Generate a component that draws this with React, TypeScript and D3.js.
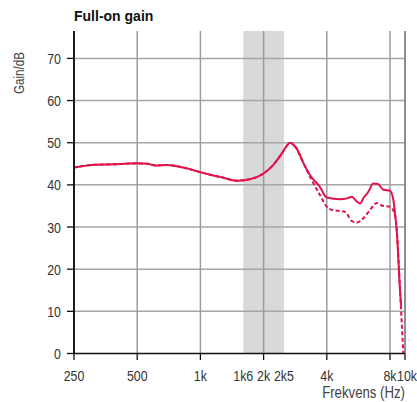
import React from "react";
import * as d3 from "d3";

const title = "Full-on gain";
const yLabel = "Gain/dB";
const xLabel = "Frekvens (Hz)";

const xMin = 250;
const xMax = 9430;
const yMax = 76.5;

const yTicks = [0, 10, 20, 30, 40, 50, 60, 70];
const xGrid = [500, 1000, 2000, 4000, 8000];
const xTickMarks = [250, 500, 1000, 2000, 4000, 8000, 9430];
const xTickValues = [250, 500, 1000, 1600, 2000, 2500, 4000, 8000, 9430];
const xTickLabels = ["250", "500", "1k", "1k6", "2k", "2k5", "4k", "8k", "10k"];

const bandStart = 1600;
const bandEnd = 2500;

const solidFreq = [250, 315, 400, 500, 560, 610, 690, 830, 1000, 1090, 1240, 1490, 1720, 2000, 2220, 2440, 2557, 2670, 2760, 2876, 2980, 3080, 3330, 3710, 4000, 4620, 5000, 5260, 5570, 5760, 6000, 6300, 6660, 7010, 7410, 8000, 8300, 8450, 8610, 8930, 9030];
const solidGain = [44.1, 44.8, 44.9, 45.1, 45.0, 44.6, 44.7, 44.1, 43.0, 42.5, 41.9, 41.0, 41.35, 42.7, 44.7, 47.4, 49.0, 50.0, 49.6, 48.6, 47.0, 45.4, 42.3, 39.5, 37.0, 36.6, 36.8, 37.2, 36.0, 35.6, 37.0, 38.3, 40.3, 40.2, 38.9, 38.6, 36.4, 33.3, 29.3, 15.0, 11.5];

const dashFreq = [250, 315, 400, 500, 560, 610, 690, 830, 1000, 1090, 1240, 1490, 1720, 2000, 2220, 2440, 2557, 2670, 2760, 2876, 2980, 3080, 3330, 3710, 4000, 4280, 4620, 4890, 5270, 5570, 5950, 6420, 6920, 7410, 8000, 8150, 8450, 8610, 8930, 9255];
const dashGain = [44.1, 44.8, 44.9, 45.1, 45.0, 44.6, 44.7, 44.1, 43.0, 42.5, 41.9, 41.0, 41.35, 42.7, 44.7, 47.4, 49.0, 50.0, 49.6, 48.6, 47.0, 45.4, 41.9, 37.6, 34.8, 34.0, 33.8, 33.6, 31.4, 31.1, 32.0, 34.0, 35.7, 35.0, 34.8, 34.5, 32.8, 29.3, 15.0, 0];

const W = 417;
const H = 402;
const left = 74;
const right = 405;
const top = 31;
const bottom = 353.5;

const FONT = "'Liberation Sans', Arial, sans-serif";
const LINE = "#e2124a";
const SX = 0.8;

function NText(props: { x: number; y: number; anchor?: string; size: number; fill: string; rotate?: number; children: React.ReactNode }) {
  const { x, y, anchor = "start", size, fill, rotate = 0, children } = props;
  return (
    <text
      transform={`translate(${x},${y}) rotate(${rotate}) scale(${SX},1)`}
      textAnchor={anchor}
      fontFamily={FONT}
      fontSize={size}
      fill={fill}
    >
      {children}
    </text>
  );
}

export default function App() {
  const x = d3.scaleLog().domain([xMin, xMax]).range([left, right]);
  const y = d3.scaleLinear().domain([0, yMax]).range([bottom, top]);

  const line = d3
    .line<[number, number]>()
    .x((d) => x(d[0]))
    .y((d) => y(d[1]))
    .curve(d3.curveMonotoneX);

  const solidPts = solidFreq.map((f, i) => [f, solidGain[i]] as [number, number]);
  const dashPts = dashFreq.map((f, i) => [f, dashGain[i]] as [number, number]);

  return (
    <svg width={W} height={H} style={{ position: "absolute", left: 0, top: 0, background: "#fff" }}>
      <rect x={x(bandStart)} y={top} width={x(bandEnd) - x(bandStart)} height={bottom - top} fill="#d8d9db" />
      {yTicks.filter((t) => t > 0).map((t) => (
        <line key={"h" + t} x1={left} x2={right} y1={y(t)} y2={y(t)} stroke="#a6a6a6" strokeWidth={1.5} />
      ))}
      {xGrid.map((t) => (
        <line key={"v" + t} x1={x(t)} x2={x(t)} y1={top} y2={bottom} stroke="#9c9c9c" strokeWidth={1.5} />
      ))}
      <line x1={right} x2={right} y1={top} y2={bottom} stroke="#6a6a6a" strokeWidth={1.5} />
      <path d={line(dashPts) || ""} fill="none" stroke={LINE} strokeWidth={2} strokeDasharray="4,2.5" />
      <path d={line(solidPts) || ""} fill="none" stroke={LINE} strokeWidth={2} />
      <line x1={left} x2={left} y1={top} y2={bottom + 0.5} stroke="#1a1a1a" strokeWidth={2} />
      <line x1={left - 1} x2={right} y1={bottom} y2={bottom} stroke="#111" strokeWidth={1.5} />
      {yTicks.map((t) => (
        <g key={"yt" + t}>
          <line x1={left - 7} x2={left} y1={y(t)} y2={y(t)} stroke="#111" strokeWidth={1.3} />
          <NText x={left - 13} y={y(t) + 5.5} anchor="end" size={15.5} fill="#333">
            {t}
          </NText>
        </g>
      ))}
      {xTickMarks.map((t) => (
        <line key={"xt" + t} x1={x(t)} x2={x(t)} y1={bottom} y2={bottom + 6.5} stroke="#111" strokeWidth={1.3} />
      ))}
      {xTickValues.map((t, i) => {
        const last = i === xTickValues.length - 1;
        return (
          <NText key={"xl" + t} x={last ? 417 : x(t)} y={381} anchor={last ? "end" : "middle"} size={15.5} fill="#333">
            {xTickLabels[i]}
          </NText>
        );
      })}
      <NText x={right} y={398} anchor="end" size={16.5} fill="#444">
        {xLabel}
      </NText>
      <NText x={24} y={73} rotate={-90} anchor="middle" size={14.5} fill="#444">
        {yLabel}
      </NText>
      <text x={left} y={21} fontFamily={FONT} fontWeight="bold" fontSize={14} fill="#111">
        {title}
      </text>
    </svg>
  );
}
